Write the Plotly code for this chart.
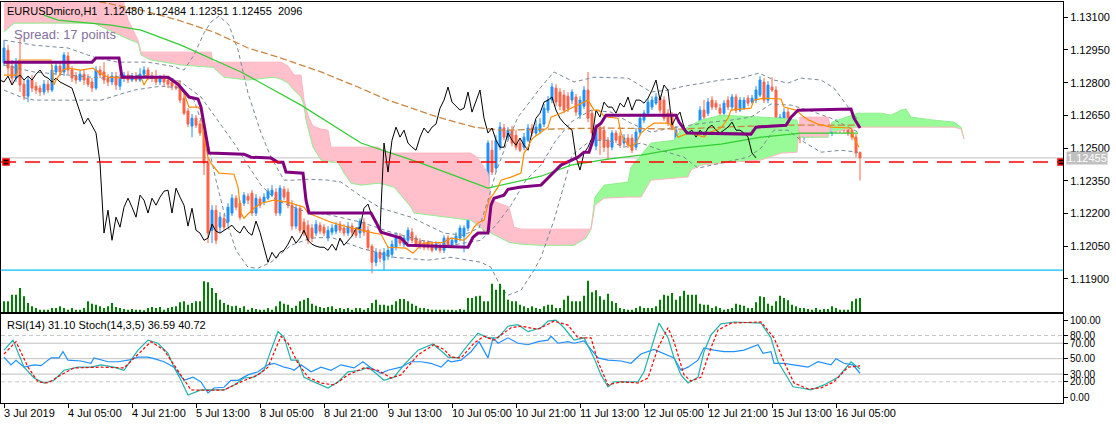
import plotly.graph_objects as go

# ---- candles (EURUSDmicro, H1), bar index 0 = 3 Jul 2019 13:00 ----
opens = [1.12890, 1.12949, 1.12876, 1.12821, 1.12894, 1.12793, 1.12738, 1.12812, 1.12784, 1.12775,
         1.12757, 1.12793, 1.12766, 1.12849, 1.12876, 1.12849, 1.12922, 1.12858, 1.12830, 1.12812,
         1.12839, 1.12821, 1.12803, 1.12775, 1.12858, 1.12849, 1.12821, 1.12803, 1.12830, 1.12784,
         1.12821, 1.12835, 1.12812, 1.12830, 1.12812, 1.12839, 1.12858, 1.12830, 1.12821, 1.12803,
         1.12821, 1.12812, 1.12803, 1.12784, 1.12775, 1.12729, 1.12670, 1.12601, 1.12637, 1.12610,
         1.12569, 1.12435, 1.12123, 1.12215, 1.12137, 1.12178, 1.12160, 1.12202, 1.12270, 1.12247,
         1.12247, 1.12279, 1.12293, 1.12202, 1.12266, 1.12252, 1.12270, 1.12284, 1.12298, 1.12202,
         1.12311, 1.12298, 1.12238, 1.12142, 1.12224, 1.12160, 1.12146, 1.12133, 1.12110, 1.12146,
         1.12137, 1.12087, 1.12114, 1.12119, 1.12151, 1.12133, 1.12110, 1.12142, 1.12123, 1.12110,
         1.12160, 1.12123, 1.12050, 1.11976, 1.12022, 1.11986, 1.12004, 1.12013, 1.12045, 1.12096,
         1.12059, 1.12077, 1.12114, 1.12087, 1.12073, 1.12064, 1.12068, 1.12059, 1.12036, 1.12054,
         1.12031, 1.12087, 1.12054, 1.12068, 1.12087, 1.12096, 1.12133, 1.12206, 1.12234, 1.12224,
         1.12197, 1.12123, 1.12490, 1.12408, 1.12504, 1.12592, 1.12550, 1.12582, 1.12559, 1.12523,
         1.12504, 1.12536, 1.12592, 1.12569, 1.12578, 1.12610, 1.12674, 1.12720, 1.12775, 1.12757,
         1.12743, 1.12738, 1.12720, 1.12734, 1.12651, 1.12692, 1.12766, 1.12660, 1.12509, 1.12592,
         1.12582, 1.12536, 1.12504, 1.12569, 1.12555, 1.12523, 1.12546, 1.12546, 1.12504, 1.12573,
         1.12628, 1.12660, 1.12688, 1.12706, 1.12729, 1.12720, 1.12660, 1.12651, 1.12536, 1.12569,
         1.12490, 1.12399, 1.12477, 1.12504, 1.12569, 1.12674, 1.12660, 1.12720, 1.12706, 1.12683,
         1.12660, 1.12720, 1.12688, 1.12734, 1.12674, 1.12683, 1.12729, 1.12711, 1.12720, 1.12743,
         1.12803, 1.12720, 1.12780, 1.12766, 1.12614, 1.12614, 1.12665, 1.12605, 1.12569, 1.12582,
         1.12550, 1.12582, 1.12559, 1.12569, 1.12619, 1.12605, 1.12605, 1.12569, 1.12582, 1.12619,
         1.12596, 1.12592, 1.12582, 1.12550, 1.12480]
highs = [1.12995, 1.12972, 1.12904, 1.12913, 1.13009, 1.12812, 1.12830, 1.12835, 1.12803, 1.12789,
         1.12812, 1.12812, 1.12881, 1.12894, 1.12894, 1.12940, 1.12940, 1.12876, 1.12849, 1.12858,
         1.12858, 1.12839, 1.12821, 1.12876, 1.12876, 1.12894, 1.12839, 1.12849, 1.12849, 1.12839,
         1.12849, 1.12853, 1.12844, 1.12849, 1.12867, 1.12876, 1.12871, 1.12849, 1.12858, 1.12835,
         1.12839, 1.12830, 1.12821, 1.12812, 1.12812, 1.12748, 1.12683, 1.12656, 1.12651, 1.12628,
         1.12582, 1.12454, 1.12238, 1.12238, 1.12206, 1.12197, 1.12247, 1.12289, 1.12284, 1.12261,
         1.12298, 1.12293, 1.12307, 1.12289, 1.12279, 1.12293, 1.12316, 1.12330, 1.12316, 1.12330,
         1.12325, 1.12316, 1.12261, 1.12243, 1.12238, 1.12178, 1.12169, 1.12151, 1.12169, 1.12160,
         1.12151, 1.12142, 1.12151, 1.12160, 1.12165, 1.12151, 1.12160, 1.12156, 1.12137, 1.12178,
         1.12178, 1.12142, 1.12059, 1.12041, 1.12036, 1.12041, 1.12050, 1.12077, 1.12114, 1.12110,
         1.12100, 1.12137, 1.12133, 1.12100, 1.12087, 1.12077, 1.12077, 1.12073, 1.12073, 1.12068,
         1.12100, 1.12100, 1.12091, 1.12114, 1.12146, 1.12146, 1.12247, 1.12261, 1.12252, 1.12238,
         1.12215, 1.12536, 1.12536, 1.12559, 1.12619, 1.12610, 1.12596, 1.12601, 1.12582, 1.12546,
         1.12569, 1.12610, 1.12610, 1.12628, 1.12637, 1.12702, 1.12738, 1.12798, 1.12793, 1.12775,
         1.12766, 1.12757, 1.12770, 1.12748, 1.12738, 1.12784, 1.12849, 1.12674, 1.12610, 1.12610,
         1.12601, 1.12550, 1.12582, 1.12582, 1.12573, 1.12564, 1.12564, 1.12564, 1.12592, 1.12651,
         1.12674, 1.12729, 1.12738, 1.12752, 1.12743, 1.12738, 1.12679, 1.12665, 1.12601, 1.12582,
         1.12509, 1.12490, 1.12523, 1.12564, 1.12692, 1.12720, 1.12729, 1.12738, 1.12720, 1.12702,
         1.12720, 1.12738, 1.12748, 1.12748, 1.12734, 1.12734, 1.12743, 1.12743, 1.12784, 1.12830,
         1.12821, 1.12807, 1.12825, 1.12784, 1.12656, 1.12683, 1.12683, 1.12624, 1.12596, 1.12596,
         1.12596, 1.12596, 1.12605, 1.12619, 1.12633, 1.12624, 1.12619, 1.12610, 1.12633, 1.12633,
         1.12610, 1.12605, 1.12596, 1.12564, 1.12484]
lows = [1.12876, 1.12835, 1.12793, 1.12803, 1.12757, 1.12720, 1.12711, 1.12757, 1.12748, 1.12738,
        1.12743, 1.12752, 1.12757, 1.12835, 1.12830, 1.12830, 1.12839, 1.12803, 1.12793, 1.12803,
        1.12789, 1.12780, 1.12757, 1.12766, 1.12821, 1.12793, 1.12784, 1.12789, 1.12766, 1.12766,
        1.12803, 1.12798, 1.12803, 1.12803, 1.12803, 1.12830, 1.12812, 1.12803, 1.12789, 1.12789,
        1.12784, 1.12775, 1.12766, 1.12766, 1.12706, 1.12651, 1.12596, 1.12550, 1.12592, 1.12555,
        1.12376, 1.12064, 1.12064, 1.12059, 1.12114, 1.12123, 1.12142, 1.12188, 1.12215, 1.12169,
        1.12234, 1.12243, 1.12188, 1.12188, 1.12224, 1.12238, 1.12261, 1.12275, 1.12188, 1.12188,
        1.12261, 1.12224, 1.12123, 1.12128, 1.12110, 1.12096, 1.12059, 1.12068, 1.12096, 1.12105,
        1.12096, 1.12073, 1.12100, 1.12105, 1.12110, 1.12096, 1.12096, 1.12096, 1.12087, 1.12087,
        1.12096, 1.12031, 1.11926, 1.11958, 1.11976, 1.11940, 1.11986, 1.11995, 1.12031, 1.12050,
        1.12045, 1.12064, 1.12064, 1.12045, 1.12036, 1.12031, 1.12031, 1.12022, 1.12027, 1.12018,
        1.12018, 1.12041, 1.12041, 1.12054, 1.12073, 1.12022, 1.12119, 1.12188, 1.12174, 1.12146,
        1.12110, 1.12110, 1.12376, 1.12390, 1.12490, 1.12536, 1.12536, 1.12509, 1.12490, 1.12481,
        1.12490, 1.12527, 1.12555, 1.12555, 1.12564, 1.12596, 1.12660, 1.12706, 1.12692, 1.12674,
        1.12660, 1.12665, 1.12702, 1.12647, 1.12633, 1.12679, 1.12619, 1.12550, 1.12490, 1.12468,
        1.12481, 1.12445, 1.12490, 1.12523, 1.12500, 1.12509, 1.12500, 1.12477, 1.12490, 1.12559,
        1.12614, 1.12647, 1.12674, 1.12697, 1.12660, 1.12624, 1.12601, 1.12582, 1.12523, 1.12445,
        1.12376, 1.12380, 1.12463, 1.12490, 1.12555, 1.12628, 1.12647, 1.12674, 1.12674, 1.12637,
        1.12647, 1.12674, 1.12674, 1.12660, 1.12665, 1.12674, 1.12692, 1.12702, 1.12706, 1.12734,
        1.12706, 1.12706, 1.12757, 1.12573, 1.12601, 1.12601, 1.12523, 1.12523, 1.12555, 1.12523,
        1.12536, 1.12546, 1.12546, 1.12555, 1.12569, 1.12555, 1.12569, 1.12555, 1.12569, 1.12569,
        1.12569, 1.12555, 1.12536, 1.12458, 1.12351]
closes = [1.12959, 1.12867, 1.12821, 1.12885, 1.12789, 1.12738, 1.12812, 1.12775, 1.12766, 1.12757,
          1.12793, 1.12766, 1.12858, 1.12876, 1.12849, 1.12927, 1.12858, 1.12821, 1.12812, 1.12839,
          1.12812, 1.12793, 1.12775, 1.12858, 1.12835, 1.12812, 1.12803, 1.12830, 1.12789, 1.12821,
          1.12835, 1.12812, 1.12830, 1.12812, 1.12839, 1.12858, 1.12830, 1.12821, 1.12803, 1.12821,
          1.12803, 1.12793, 1.12784, 1.12775, 1.12720, 1.12660, 1.12610, 1.12637, 1.12605, 1.12569,
          1.12431, 1.12110, 1.12215, 1.12077, 1.12183, 1.12137, 1.12229, 1.12270, 1.12229, 1.12183,
          1.12284, 1.12261, 1.12202, 1.12270, 1.12238, 1.12275, 1.12302, 1.12307, 1.12202, 1.12316,
          1.12275, 1.12238, 1.12142, 1.12224, 1.12123, 1.12110, 1.12077, 1.12087, 1.12151, 1.12119,
          1.12110, 1.12123, 1.12133, 1.12146, 1.12123, 1.12110, 1.12142, 1.12114, 1.12100, 1.12165,
          1.12114, 1.12045, 1.11976, 1.12022, 1.11995, 1.12022, 1.12031, 1.12059, 1.12096, 1.12064,
          1.12087, 1.12123, 1.12077, 1.12059, 1.12050, 1.12045, 1.12045, 1.12031, 1.12059, 1.12031,
          1.12087, 1.12054, 1.12077, 1.12096, 1.12133, 1.12133, 1.12224, 1.12243, 1.12188, 1.12160,
          1.12123, 1.12523, 1.12390, 1.12536, 1.12596, 1.12550, 1.12582, 1.12523, 1.12504, 1.12490,
          1.12550, 1.12592, 1.12569, 1.12596, 1.12610, 1.12683, 1.12720, 1.12780, 1.12711, 1.12692,
          1.12674, 1.12683, 1.12757, 1.12665, 1.12720, 1.12766, 1.12637, 1.12569, 1.12592, 1.12536,
          1.12504, 1.12504, 1.12569, 1.12536, 1.12513, 1.12546, 1.12513, 1.12490, 1.12573, 1.12637,
          1.12660, 1.12711, 1.12720, 1.12734, 1.12674, 1.12637, 1.12614, 1.12596, 1.12582, 1.12458,
          1.12399, 1.12477, 1.12504, 1.12546, 1.12674, 1.12642, 1.12711, 1.12688, 1.12688, 1.12660,
          1.12706, 1.12688, 1.12734, 1.12674, 1.12720, 1.12720, 1.12706, 1.12729, 1.12766, 1.12812,
          1.12720, 1.12789, 1.12766, 1.12605, 1.12642, 1.12665, 1.12596, 1.12569, 1.12582, 1.12550,
          1.12582, 1.12559, 1.12592, 1.12605, 1.12582, 1.12569, 1.12582, 1.12596, 1.12619, 1.12582,
          1.12582, 1.12569, 1.12550, 1.12477, 1.12455]
volumes = [1600, 1600, 2600, 2600, 3600, 2350, 1350, 850, 600, 350, 350, 350, 600, 600, 850,
           600, 350, 600, 350, 350, 600, 1600, 1250, 1100, 850, 600, 850, 1350, 750, 600,
           450, 350, 450, 350, 350, 250, 600, 750, 600, 750, 350, 600, 750, 850, 1450,
           1600, 1100, 1350, 1600, 1600, 4600, 4450, 3600, 2850, 1850, 1350, 1100, 850, 950, 600,
           850, 350, 600, 450, 350, 350, 600, 350, 850, 1600, 1250, 1100, 600, 950, 1600,
           1850, 2100, 1250, 950, 750, 600, 750, 850, 450, 600, 450, 600, 350, 600, 600,
           350, 600, 1350, 1850, 1100, 1100, 950, 1100, 1600, 1950, 1950, 1600, 1250, 950, 600,
           600, 450, 350, 350, 350, 350, 350, 350, 250, 450, 350, 2100, 2100, 2350, 2450,
           1600, 1600, 4250, 3350, 4250, 3350, 1850, 1600, 1600, 1100, 850, 600, 850, 600, 450,
           850, 1100, 1100, 600, 600, 1850, 2450, 1600, 1600, 1600, 2450, 4700, 2950, 3250, 2350,
           1850, 2750, 1600, 1350, 600, 450, 350, 350, 600, 850, 600, 600, 600, 850, 1850,
           2600, 2450, 2850, 1850, 2350, 3200, 2600, 2600, 2600, 1250, 1100, 1100, 600, 850, 600,
           350, 450, 600, 1250, 1100, 950, 600, 600, 1450, 2350, 2250, 1250, 950, 1600, 2450,
           2100, 1750, 1100, 850, 600, 600, 450, 350, 600, 350, 450, 450, 850, 600, 350,
           350, 350, 1600, 2000, 2096]

bars = list(range(len(closes)))
tick_bars = [0, 16, 32, 48, 64, 80, 96, 112, 128, 144, 160, 176, 192, 208]
tick_labels = ["3 Jul 2019", "4 Jul 05:00", "4 Jul 21:00", "5 Jul 13:00", "8 Jul 05:00",
               "8 Jul 21:00", "9 Jul 13:00", "10 Jul 05:00", "10 Jul 21:00", "11 Jul 13:00",
               "12 Jul 05:00", "12 Jul 21:00", "15 Jul 13:00", "16 Jul 05:00"]

# ---- Ichimoku ----
tenkan_x = [0, 3.25, 3.75, 11.75, 12.5, 13, 14.75, 16, 19.25, 22.25, 23.5, 26, 30, 34.25, 35, 36, 41,
            43.5, 45, 46.25, 48.5, 49.25, 49.75, 51, 51.75, 53.75, 57.5, 58.5, 59.25, 60, 61.25, 62.5,
            64.25, 67.5, 71, 73.5, 75, 76, 78.5, 81.75, 84.25, 89.25, 92.5, 94.25, 96, 100.5, 102.25,
            103.5, 105, 110, 111.75, 115, 116.75, 117.5, 118.75, 120, 121.25, 122.5, 123.5, 124.25,
            126.75, 129.25, 130, 131, 131.75, 132.5, 134.25, 136, 136.75, 139.25, 141.75, 144.25, 146,
            147.5, 148.75, 149.75, 151, 153.5, 154.25, 155, 156.75, 158, 159.25, 161, 162.5, 166,
            167.5, 168.5, 170, 171.25, 173.5, 175, 176, 179.25, 181, 181.75, 186.75, 187.5, 190,
            194.25, 195, 196, 198, 200, 201.25, 203.5, 206.75, 211.75, 212.5, 213.75]
tenkan = [1.12835, 1.12835, 1.12904, 1.12904, 1.12789, 1.12812, 1.12858, 1.12867, 1.12858, 1.12867,
          1.12849, 1.12825, 1.12821, 1.12825, 1.12789, 1.12821, 1.12821, 1.12798, 1.12752, 1.12688,
          1.12688, 1.12674, 1.12569, 1.12458, 1.12431, 1.12385, 1.12380, 1.12321, 1.12202, 1.12178,
          1.12202, 1.12224, 1.12247, 1.12261, 1.12252, 1.12238, 1.12229, 1.12202, 1.12183, 1.12160,
          1.12146, 1.12123, 1.12110, 1.12105, 1.12045, 1.12041, 1.12018, 1.12041, 1.12064, 1.12068,
          1.12087, 1.12077, 1.12110, 1.12137, 1.12160, 1.12169, 1.12261, 1.12293, 1.12321, 1.12353,
          1.12367, 1.12385, 1.12477, 1.12504, 1.12536, 1.12550, 1.12573, 1.12596, 1.12642, 1.12660,
          1.12683, 1.12706, 1.12720, 1.12674, 1.12674, 1.12651, 1.12642, 1.12637, 1.12569, 1.12536,
          1.12504, 1.12523, 1.12569, 1.12596, 1.12614, 1.12614, 1.12596, 1.12550, 1.12559, 1.12569,
          1.12559, 1.12550, 1.12569, 1.12592, 1.12637, 1.12674, 1.12683, 1.12720, 1.12729, 1.12725,
          1.12688, 1.12683, 1.12674, 1.12642, 1.12628, 1.12610, 1.12596, 1.12592, 1.12546, 1.12504]
kijun_x = [0, 22, 23, 28.75, 29.5, 41, 42, 43.5, 46.25, 48.5, 49.25, 51.25, 60, 61.75, 66.75, 68.5,
           69.75, 70.5, 74.75, 75.5, 76.25, 91.75, 93, 94.25, 99.25, 101, 116, 117.25, 118.5, 121,
           121.75, 122.5, 125, 126, 129.25, 134.25, 137.5, 139.25, 143.5, 145, 146.25, 147.25, 148,
           149.25, 150.5, 168, 168.75, 170.75, 186.75, 188, 195.5, 196.75, 198.5, 211.75, 212.5, 214]
kijun = [1.12894, 1.12894, 1.12913, 1.12913, 1.12825, 1.12825, 1.12812, 1.12793, 1.12734, 1.12725,
         1.12688, 1.12477, 1.12472, 1.12458, 1.12454, 1.12435, 1.12435, 1.12390, 1.12385, 1.12261,
         1.12202, 1.12202, 1.12160, 1.12114, 1.12087, 1.12054, 1.12045, 1.12091, 1.12110, 1.12110,
         1.12238, 1.12270, 1.12284, 1.12311, 1.12321, 1.12330, 1.12390, 1.12422, 1.12458, 1.12481,
         1.12481, 1.12536, 1.12596, 1.12614, 1.12651, 1.12651, 1.12619, 1.12569, 1.12564, 1.12596,
         1.12605, 1.12642, 1.12674, 1.12679, 1.12637, 1.12592]
chikou_shift = 26
cloud_x = [0, 2.5, 22.5, 27.5, 29.25, 31, 33.5, 34.25, 36.75, 44.25, 51.75, 52.25, 55, 61, 67.5,
           69.25, 71, 72.5, 74.25, 75, 75.5, 76.25, 77.25, 79.25, 81, 81.75, 83.5, 85, 86.75, 89.25,
           93.75, 94.75, 97.5, 101.75, 102.5, 116.75, 118.25, 120, 121, 121.75, 126.25, 127.5,
           129.25, 134.25, 142.5, 145.5, 146.75, 147.75, 150, 156, 156.75, 159.25, 161.75, 167.5,
           169.25, 171, 171.75, 174.25, 179.25, 189.25, 194.25, 198.25, 199, 206, 207, 213.5,
           219.25, 221.75, 224.25, 225.5, 226.75, 232.5, 237.5, 239.25, 240]
span_a = [1.13032, 1.13073, 1.13073, 1.13028, 1.13014, 1.13000, 1.12982, 1.12927, 1.12904, 1.12881,
          1.12871, 1.12871, 1.12825, 1.12812, 1.12825, 1.12816, 1.12798, 1.12766, 1.12734, 1.12697,
          1.12628, 1.12569, 1.12504, 1.12445, 1.12440, 1.12435, 1.12435, 1.12385, 1.12339, 1.12330,
          1.12339, 1.12334, 1.12321, 1.12229, 1.12202, 1.12169, 1.12146, 1.12123, 1.12119, 1.12110,
          1.12068, 1.12064, 1.12059, 1.12054, 1.12054, 1.12087, 1.12128, 1.12275, 1.12330, 1.12344,
          1.12413, 1.12468, 1.12523, 1.12536, 1.12582, 1.12596, 1.12605, 1.12628, 1.12651, 1.12642,
          1.12637, 1.12628, 1.12550, 1.12550, 1.12619, 1.12660, 1.12660, 1.12651, 1.12674, 1.12679,
          1.12642, 1.12628, 1.12619, 1.12596, 1.12546]
span_b = [1.13225, 1.13225, 1.13225, 1.13225, 1.13216, 1.13087, 1.12995, 1.12940, 1.12940, 1.12940,
          1.12940, 1.12894, 1.12894, 1.12894, 1.12894, 1.12894, 1.12876, 1.12835, 1.12835, 1.12720,
          1.12683, 1.12637, 1.12601, 1.12587, 1.12582, 1.12504, 1.12504, 1.12504, 1.12504, 1.12504,
          1.12504, 1.12481, 1.12477, 1.12477, 1.12477, 1.12477, 1.12458, 1.12408, 1.12385, 1.12261,
          1.12229, 1.12137, 1.12128, 1.12128, 1.12128, 1.12128, 1.12128, 1.12238, 1.12270, 1.12275,
          1.12275, 1.12275, 1.12353, 1.12362, 1.12367, 1.12367, 1.12399, 1.12422, 1.12431, 1.12445,
          1.12477, 1.12481, 1.12642, 1.12642, 1.12573, 1.12596, 1.12596, 1.12596, 1.12596, 1.12596,
          1.12596, 1.12596, 1.12596, 1.12587, 1.12541]

# ---- Bollinger bands (20) ----
bb_up_x = [0, 7.5, 16, 22.5, 28.5, 36, 41.75, 45, 47.5, 50, 51.75, 53.75, 56.25, 58.5, 61, 64.25,
           66.75, 68.5, 70, 72.5, 76, 81, 84.25, 89.25, 94.25, 101.75, 110, 114.75, 118.75, 121,
           123, 125.5, 128.5, 131.75, 134.25, 137.5, 142.5, 147.5, 156, 161.75, 166, 170, 179.25,
           184.25, 188.75, 192.5, 196, 199.25, 204.25, 207.5, 211, 213.5]
bb_up = [1.12995, 1.12972, 1.12959, 1.12917, 1.12894, 1.12894, 1.12876, 1.12858, 1.12927, 1.13028,
         1.13078, 1.13106, 1.13064, 1.12950, 1.12752, 1.12569, 1.12458, 1.12399, 1.12353, 1.12353,
         1.12357, 1.12353, 1.12344, 1.12279, 1.12224, 1.12183, 1.12110, 1.12100, 1.12133, 1.12261,
         1.12390, 1.12513, 1.12642, 1.12720, 1.12780, 1.12849, 1.12803, 1.12825, 1.12821, 1.12757,
         1.12766, 1.12784, 1.12812, 1.12821, 1.12844, 1.12812, 1.12798, 1.12821, 1.12812, 1.12775,
         1.12688, 1.12628]
bb_mid_x = [0, 7.5, 16, 24.25, 34.25, 41.75, 44.25, 49.25, 52.5, 57.5, 60.5, 64.25, 68, 74.25, 81.75,
            89.25, 96.75, 104.25, 111.75, 119.25, 123, 126.75, 130.5, 134.25, 138, 141.75, 146.75,
            151.75, 156.75, 161.75, 166.75, 171.75, 176.75, 181.75, 186.75, 191.75, 196.75, 201.75,
            206.75, 213.5]
bb_mid = [1.12881, 1.12849, 1.12835, 1.12821, 1.12835, 1.12821, 1.12803, 1.12734, 1.12651, 1.12523,
          1.12435, 1.12330, 1.12261, 1.12215, 1.12192, 1.12160, 1.12114, 1.12077, 1.12054, 1.12077,
          1.12146, 1.12238, 1.12353, 1.12422, 1.12536, 1.12619, 1.12674, 1.12665, 1.12614, 1.12573,
          1.12592, 1.12605, 1.12619, 1.12628, 1.12642, 1.12702, 1.12697, 1.12670, 1.12637, 1.12573]
bb_lo_x = [0, 4.25, 7.5, 16, 24.25, 32.5, 39.25, 44.25, 47.5, 50.5, 53, 55.5, 58, 61, 63.5, 66.75,
           71.75, 76.75, 81.75, 89.25, 97.5, 106, 111.75, 119.25, 121.75, 124.25, 126, 129.25,
           132.5, 134.25, 137.5, 140, 142, 146.75, 151, 155, 159.25, 164.25, 170, 173.5, 179.25,
           186, 189.25, 192.5, 196, 199.25, 204.25, 209.25, 213.5]
bb_lo = [1.12766, 1.12734, 1.12720, 1.12720, 1.12720, 1.12766, 1.12784, 1.12775, 1.12720, 1.12559,
         1.12353, 1.12169, 1.12031, 1.11953, 1.11949, 1.11976, 1.12054, 1.12087, 1.12091, 1.12041,
         1.11999, 1.11986, 1.11999, 1.11976, 1.11953, 1.11862, 1.11825, 1.11848, 1.11940, 1.11999,
         1.12169, 1.12330, 1.12468, 1.12536, 1.12536, 1.12504, 1.12523, 1.12490, 1.12458, 1.12408,
         1.12431, 1.12458, 1.12500, 1.12582, 1.12582, 1.12536, 1.12481, 1.12490, 1.12481]

# ---- moving averages ----
ma_green_x = [10, 13.5, 26.75, 34.25, 44.25, 59.25, 74.25, 89.25, 104.25, 121, 134.25, 141.75, 151,
              159.25, 169.25, 179.25, 189.25, 199.25, 213.5]
ma_green = [1.13110, 1.13087, 1.13064, 1.13041, 1.12972, 1.12849, 1.12697, 1.12523, 1.12431, 1.12316,
            1.12371, 1.12422, 1.12449, 1.12468, 1.12500, 1.12518, 1.12550, 1.12569, 1.12569]
ma_brown_x = [14.25, 23, 34.25, 43.5, 52.5, 61, 69.25, 79.25, 88.5, 96, 108.5, 117.5, 124.25, 134.25,
              149.25, 169.25, 179.25, 194.25, 213.5]
ma_brown = [1.13225, 1.13174, 1.13133, 1.13087, 1.13032, 1.12959, 1.12913, 1.12849, 1.12780, 1.12720,
            1.12642, 1.12596, 1.12582, 1.12587, 1.12592, 1.12587, 1.12596, 1.12605, 1.12605]

# ---- levels ----
bid_price = 1.12455
red_level = 1.12436
red_anchor_bars = [0.5, 264.25]
cyan_level = 1.11940

# ---- RSI(14) and Stoch(14,3,5) ----
rsi_x = [0, 1.75, 3, 5, 7.5, 9.25, 11.75, 13.75, 14.75, 16, 19.25, 21.75, 22.5, 26, 28.5, 31, 33.5,
         36, 37.5, 40, 42.5, 45, 47.25, 49.25, 51, 52.5, 55, 56.75, 58.5, 61, 63.5, 66, 67.5, 70,
         71.75, 72.5, 74.25, 76.75, 79.25, 81.75, 84.25, 87.5, 89.75, 91.75, 94.25, 96, 99.25,
         101.75, 104.25, 106.75, 109.25, 111, 111.75, 114.25, 116.75, 118.75, 121, 122.25, 123.5,
         126, 128.5, 131, 133.5, 136, 136.75, 138.5, 141, 142.5, 145, 148.5, 151, 154.25, 156.75,
         159.25, 162.5, 165, 167.5, 169.25, 171, 173.5, 175, 177.5, 180, 182.5, 185, 188.5, 189.75,
         191.75, 192.5, 195, 197.5, 201, 203.5, 206.75, 208, 210, 212.25, 214]
rsi = [52, 42, 48, 39, 42, 41, 51, 51, 59, 48, 47, 44, 51, 46, 46, 48, 52, 52, 50, 46, 39, 22, 26, 20,
       5.6, 12, 13, 22, 22, 29, 33, 42, 44, 39, 37, 35, 42, 33, 39, 35, 42, 38, 46, 38, 31, 35, 39, 46,
       46, 44, 39, 48, 46, 48, 59, 72, 51, 77, 70, 77, 70, 68, 72, 74, 79, 70, 72, 70, 73, 51, 48, 47,
       44, 56, 62, 57, 51, 35, 39, 48, 64, 61, 59, 59, 61, 68, 57, 59, 44, 44, 42, 39, 46, 42, 50, 44,
       42, 31.1]
stoch_x = [0, 2.25, 5, 7.5, 10, 12.5, 15, 18.5, 21.75, 24.25, 27.5, 30, 31.75, 33.5, 36, 38.5, 41,
           42.5, 44.25, 46, 49.25, 52.5, 55, 57.5, 60, 62.5, 65, 66.75, 68.5, 70, 71.75, 73.5, 75,
           77.5, 81, 83.5, 86, 89.25, 91, 92.5, 95, 97.5, 100, 103.5, 107.25, 110, 111, 113.5, 116,
           118.5, 121, 123.5, 126, 128.5, 131, 134.25, 136, 138, 140, 142.5, 145, 147.5, 149.25, 151,
           152.5, 156, 158.5, 160, 161.75, 163.75, 166, 167.5, 169.25, 171, 173.5, 175, 176.75,
           179.25, 182.5, 189.25, 191.75, 193.5, 195, 197.25, 199.25, 201.75, 205, 208.5, 211.75, 214]
stoch_main = [61, 74, 39, 25, 18.5, 22, 35, 39, 39, 42, 39, 35, 48, 61, 74, 70, 57, 39, 22, 3, 9.5,
              9.5, 9.5, 16, 25, 26, 35, 61, 85, 78, 48, 48, 26, 20, 12, 20, 33, 35, 39, 33, 22, 26,
              42, 61, 69, 57, 52, 51, 68, 83, 77, 77, 92, 94, 85, 90, 98.6, 100, 90, 74, 77, 51, 29,
              13.6, 20, 20, 20, 33, 64, 96, 77, 51, 29, 18.5, 26, 59, 81, 95, 97.5, 96, 77, 46, 33,
              13.6, 12, 9.5, 16, 26, 46, 36.59]
signal_x = [0, 3, 6, 8.5, 11, 14.25, 17.5, 24.25, 30, 32.5, 36.75, 40, 43.5, 46.75, 51, 55, 59.25,
            63.5, 66, 69.25, 71, 73.5, 76, 79.25, 82.5, 86, 90, 93.5, 96.75, 99.25, 103.5, 107.5,
            110, 111.75, 114.25, 117.5, 120, 122.5, 126.75, 129.25, 133.5, 137.5, 141, 143.5, 146.75,
            148.5, 151, 154.25, 158.5, 161, 163.5, 166, 167.5, 170, 171.75, 174.25, 176.75, 178.5,
            181.75, 189.25, 192.5, 195, 197.5, 201, 204.25, 207.5, 211, 214]
stoch_signal = [56, 72, 39, 20, 18.5, 29, 38, 39, 38, 51, 72, 61, 35, 9.5, 9, 9.5, 20, 29, 39, 79, 70,
                44, 26, 18.5, 16, 29, 38, 35, 25, 29, 55, 68, 62, 52, 51, 70, 79, 74, 90, 92, 88,
                98.6, 93.5, 77, 77, 46, 16, 20, 18.5, 25, 64, 90, 72, 29, 21, 26, 64, 87, 96, 97.5,
                77, 46, 18.5, 10.8, 12, 20, 39, 40.72]
osc_levels_solid = [70, 50, 30]
osc_levels_dash = [80, 20]


def cloud_parts(xs, a, b):
    # split the cloud where span A and span B cross, so each part gets one colour
    parts = []
    px, pa, pb = [xs[0]], [a[0]], [b[0]]
    up = a[0] >= b[0]
    for k in range(1, len(xs)):
        now = a[k] >= b[k]
        if now != up:
            d0, d1 = a[k - 1] - b[k - 1], a[k] - b[k]
            t = d0 / (d0 - d1)
            xc = xs[k - 1] + t * (xs[k] - xs[k - 1])
            yc = a[k - 1] + t * (a[k] - a[k - 1])
            px.append(xc); pa.append(yc); pb.append(yc)
            parts.append((px, pa, pb, up))
            px, pa, pb = [xc], [yc], [yc]
            up = now
        px.append(xs[k]); pa.append(a[k]); pb.append(b[k])
    parts.append((px, pa, pb, up))
    return parts


FONT = "Liberation Sans"
fig = go.Figure()

for px, pa, pb, up in cloud_parts(cloud_x, span_a, span_b):
    fig.add_trace(go.Scatter(x=px + px[::-1], y=pa + pb[::-1], fill="toself", mode="lines",
                             line=dict(width=0), fillcolor="#98FB98" if up else "#FFC0CB",
                             hoverinfo="skip"))
fig.add_trace(go.Scatter(x=cloud_x, y=span_a, mode="lines", line=dict(color="#90EE90", width=1)))
fig.add_trace(go.Scatter(x=cloud_x, y=span_b, mode="lines", line=dict(color="#FFB6C1", width=1)))

fig.add_trace(go.Bar(x=bars, y=volumes, yaxis="y3", width=0.45,
                     marker=dict(color="#008000", line=dict(width=0))))

fig.add_trace(go.Candlestick(x=bars, open=opens, high=highs, low=lows, close=closes,
                             increasing=dict(line=dict(color="#1E90FF", width=1), fillcolor="#1E90FF"),
                             decreasing=dict(line=dict(color="#FF6347", width=1), fillcolor="#FF6347"),
                             whiskerwidth=0))

for bx, by in [(bb_up_x, bb_up), (bb_mid_x, bb_mid), (bb_lo_x, bb_lo)]:
    fig.add_trace(go.Scatter(x=bx, y=by, mode="lines",
                             line=dict(color="#778899", width=1, dash="4px,3px")))
fig.add_trace(go.Scatter(x=ma_brown_x, y=ma_brown, mode="lines",
                         line=dict(color="#CD853F", width=1.3, dash="7px,3px")))
fig.add_trace(go.Scatter(x=ma_green_x, y=ma_green, mode="lines",
                         line=dict(color="#32CD32", width=1.2)))
fig.add_trace(go.Scatter(x=[i - chikou_shift for i in bars], y=closes, mode="lines",
                         line=dict(color="#000000", width=1)))
fig.add_trace(go.Scatter(x=tenkan_x, y=tenkan, mode="lines", line=dict(color="#FF8C00", width=1.2)))
fig.add_trace(go.Scatter(x=kijun_x, y=kijun, mode="lines", line=dict(color="#800080", width=3)))

fig.add_trace(go.Scatter(x=red_anchor_bars, y=[red_level] * 2, mode="markers",
                         marker=dict(symbol="square", size=6, color="#000000",
                                     line=dict(color="#FF0000", width=1.5))))

# oscillators
fig.add_trace(go.Scatter(x=rsi_x, y=rsi, xaxis="x2", yaxis="y2", mode="lines",
                         line=dict(color="#1E90FF", width=1.2)))
fig.add_trace(go.Scatter(x=stoch_x, y=stoch_main, xaxis="x2", yaxis="y2", mode="lines",
                         line=dict(color="#20B2AA", width=1.2)))
fig.add_trace(go.Scatter(x=signal_x, y=stoch_signal, xaxis="x2", yaxis="y2", mode="lines",
                         line=dict(color="#FF0000", width=1.2, dash="3px,2px")))

shapes = [
    dict(type="line", xref="paper", x0=0, x1=1, yref="y", y0=bid_price, y1=bid_price,
         line=dict(color="#C0C0C0", width=1), layer="below"),
    dict(type="line", xref="paper", x0=0, x1=1, yref="y", y0=red_level, y1=red_level,
         line=dict(color="#FF0000", width=1.5, dash="15px,9px")),
    dict(type="line", xref="paper", x0=0, x1=1, yref="y", y0=cyan_level, y1=cyan_level,
         line=dict(color="#00BFFF", width=1.3)),
]
for lv in osc_levels_solid:
    shapes.append(dict(type="line", xref="paper", x0=0, x1=1, yref="y2", y0=lv, y1=lv,
                       line=dict(color="#C0C0C0", width=1), layer="below"))
for lv in osc_levels_dash:
    shapes.append(dict(type="line", xref="paper", x0=0, x1=1, yref="y2", y0=lv, y1=lv,
                       line=dict(color="#C8C8C8", width=1, dash="4px,3px"), layer="below"))

annotations = [
    dict(xref="paper", yref="paper", x=0, y=1, xanchor="left", yanchor="top", xshift=4, yshift=-1,
         showarrow=False, text="EURUSDmicro,H1\u00a0\u00a01.12480 1.12484 1.12351 1.12455\u00a0\u00a02096",
         font=dict(family=FONT, size=11, color="#000000")),
    dict(xref="paper", yref="paper", x=0, y=1, xanchor="left", yanchor="top", xshift=11, yshift=-23,
         showarrow=False, text="Spread: 17 points",
         font=dict(family=FONT, size=13, color="#84709C")),
    dict(xref="paper", yref="paper", x=0, y=0.222, xanchor="left", yanchor="top", xshift=4, yshift=-3,
         showarrow=False, text="RSI(14) 31.10 Stoch(14,3,5) 36.59 40.72",
         font=dict(family=FONT, size=11, color="#000000")),
    dict(xref="paper", yref="y", x=1, y=bid_price, xanchor="left", yanchor="middle", xshift=3,
         showarrow=False, text="1.12455", bgcolor="#C0C0C0", borderpad=0,
         font=dict(family=FONT, size=11, color="#FFFFFF")),
]
for tb, tl in zip(tick_bars, tick_labels):
    annotations.append(dict(xref="x2", yref="paper", x=tb, y=0, xanchor="left", yanchor="top",
                            xshift=-2, yshift=-2, showarrow=False, text=tl,
                            font=dict(family=FONT, size=11, color="#000000")))

price_ticks = [1.119, 1.1205, 1.122, 1.1235, 1.125, 1.1265, 1.128, 1.1295, 1.131]
osc_ticks = [0, 20, 30, 50, 70, 80, 100]
xr = [-0.75, 264.75]
axis_common = dict(showgrid=False, zeroline=False, showline=True, linecolor="#000000",
                   linewidth=1, mirror=True)

fig.update_layout(
    width=1116, height=424,
    margin=dict(l=1, r=53, t=2, b=21),
    paper_bgcolor="#FFFFFF", plot_bgcolor="#FFFFFF",
    showlegend=False, hovermode=False,
    font=dict(family=FONT, size=11, color="#000000"),
    xaxis=dict(domain=[0, 1], range=xr, anchor="y", showticklabels=False, ticks="",
               rangeslider=dict(visible=False), **axis_common),
    yaxis=dict(domain=[0.2269, 1], range=[1.11748, 1.13170], side="right", anchor="x",
               tickvals=price_ticks, ticktext=["%.5f" % v for v in price_ticks],
               ticks="outside", ticklen=4, tickcolor="#000000", **axis_common),
    yaxis3=dict(overlaying="y", range=[0, 46500], visible=False, anchor="x"),
    xaxis2=dict(domain=[0, 1], range=xr, anchor="y2", tickvals=tick_bars, showticklabels=False,
                ticks="outside", ticklen=4, tickcolor="#000000", **axis_common),
    yaxis2=dict(domain=[0, 0.2219], range=[-7.4, 107.8], side="right", anchor="x2",
                tickvals=osc_ticks, ticktext=["%.2f" % v for v in osc_ticks],
                ticks="outside", ticklen=4, tickcolor="#000000",
                tickfont=dict(family=FONT, size=10), **axis_common),
    shapes=shapes, annotations=annotations,
)

fig.write_html("out.html", config={"displayModeBar": False},
               post_script="document.body.style.margin='0px';")
